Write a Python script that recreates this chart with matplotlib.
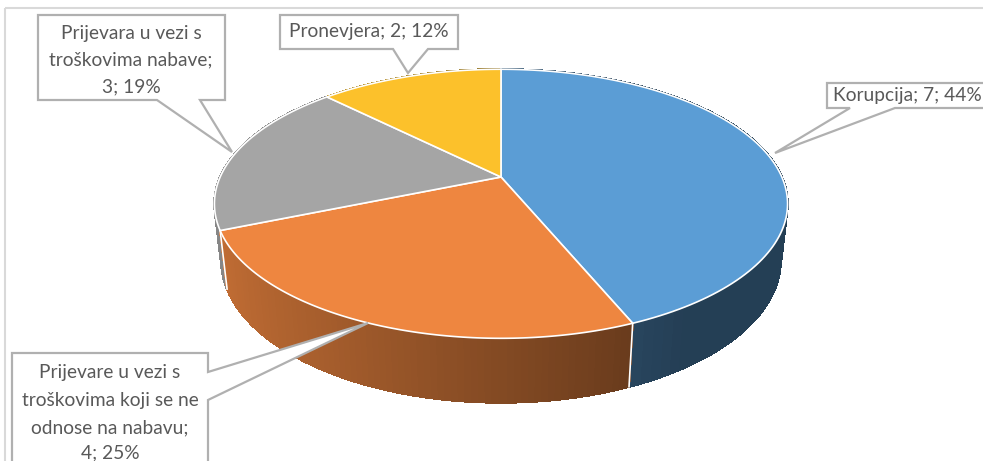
import matplotlib.pyplot as plt
from matplotlib.patches import Polygon, Rectangle
import matplotlib.colors as mcolors
import numpy as np

# data: clockwise from 12 o'clock
labels = [
    ['Korupcija; 7; 44%'],
    ['Prijevare u vezi s', 'troškovima koji se ne', 'odnose na nabavu;', '4; 25%'],
    ['Prijevara u vezi s', 'troškovima nabave;', '3; 19%'],
    ['Pronevjera; 2; 12%'],
]
values = [7, 4, 3, 2]
colors = ['#5B9DD5', '#EE8640', '#A5A5A5', '#FCC12B']

# 3D view (pixel coordinates)
cx, cy = 501, 177
f, u = 1252.6, 4.46
se, ce = 0.46, 0.888
H = 0.2275


def proj(phi, z):
    X = np.sin(phi)
    Y = np.cos(phi)
    depth = u + Y * ce - z * se
    up = Y * se + z * ce
    return cx + f * X / depth, cy - f * up / depth


fig = plt.figure(figsize=(9.83, 4.61), dpi=100)
ax = fig.add_axes([0, 0, 1, 1])
ax.set_xlim(0, 983)
ax.set_ylim(461, 0)
ax.axis('off')

# chart frame
ax.add_patch(Rectangle((5, 8), 1000, 500, fill=False, ec='#D9D9D9', lw=1.5))

total = float(sum(values))
bounds = np.concatenate([[0], np.cumsum(values)]) / total * 2 * np.pi

# side walls, far to near
segs = []
for i in range(len(values)):
    ph = np.linspace(bounds[i], bounds[i + 1], 80)
    for a, b in zip(ph[:-1], ph[1:]):
        m = 0.5 * (a + b)
        depth = u + np.cos(m) * ce
        shade = np.clip(0.55 - 0.28 * np.sin(m), 0.4, 0.85)
        rgb = np.array(mcolors.to_rgb(colors[i])) * shade
        pts = [proj(a, 0), proj(b, 0), proj(b, -H), proj(a, -H)]
        segs.append((depth, pts, rgb))
segs.sort(key=lambda s: -s[0])
for d, pts, rgb in segs:
    ax.add_patch(Polygon(pts, closed=True, fc=rgb, ec=rgb, lw=1.0, antialiased=False))

# white lines at slice borders on the visible wall
for b in bounds[1:-1]:
    if np.cos(b) < 0:
        p1 = proj(b, 0)
        p2 = proj(b, -H)
        ax.plot([p1[0], p2[0]], [p1[1], p2[1]], color='white', lw=1.2)

# top faces
for i in range(len(values)):
    ph = np.linspace(bounds[i], bounds[i + 1], 120)
    pts = [proj(p, 0) for p in ph] + [(cx, cy)]
    ax.add_patch(Polygon(pts, closed=True, fc=colors[i], ec='white', lw=1.2))

# callouts: outline of box + pointer
callouts = [
    [(827, 83), (1000, 83), (1000, 108), (895, 108), (775, 153), (850, 108), (827, 108)],
    [(12, 353), (208, 353), (208, 372), (368, 323), (208, 400), (208, 470), (12, 470)],
    [(38, 15), (225, 15), (225, 100), (200, 100), (232, 152), (157, 100), (38, 100)],
    [(280, 15), (458, 15), (458, 49), (428, 49), (408, 73), (393, 49), (280, 49)],
]
text_pos = [
    (833, [95], 'left'),
    (110, [372, 400, 428, 453], 'center'),
    (131, [33, 60, 87], 'center'),
    (369, [32], 'center'),
]
for i in range(len(values)):
    ax.add_patch(Polygon(callouts[i], closed=True, fc='white', ec='#B0B0B0', lw=1.6))
    x, ys, ha = text_pos[i]
    for line, y in zip(labels[i], ys):
        ax.text(x, y, line, ha=ha, va='center', fontsize=13.8, color='#595959',
                family=['Lato', 'DejaVu Sans'])

fig.savefig('out.png', dpi=100)
